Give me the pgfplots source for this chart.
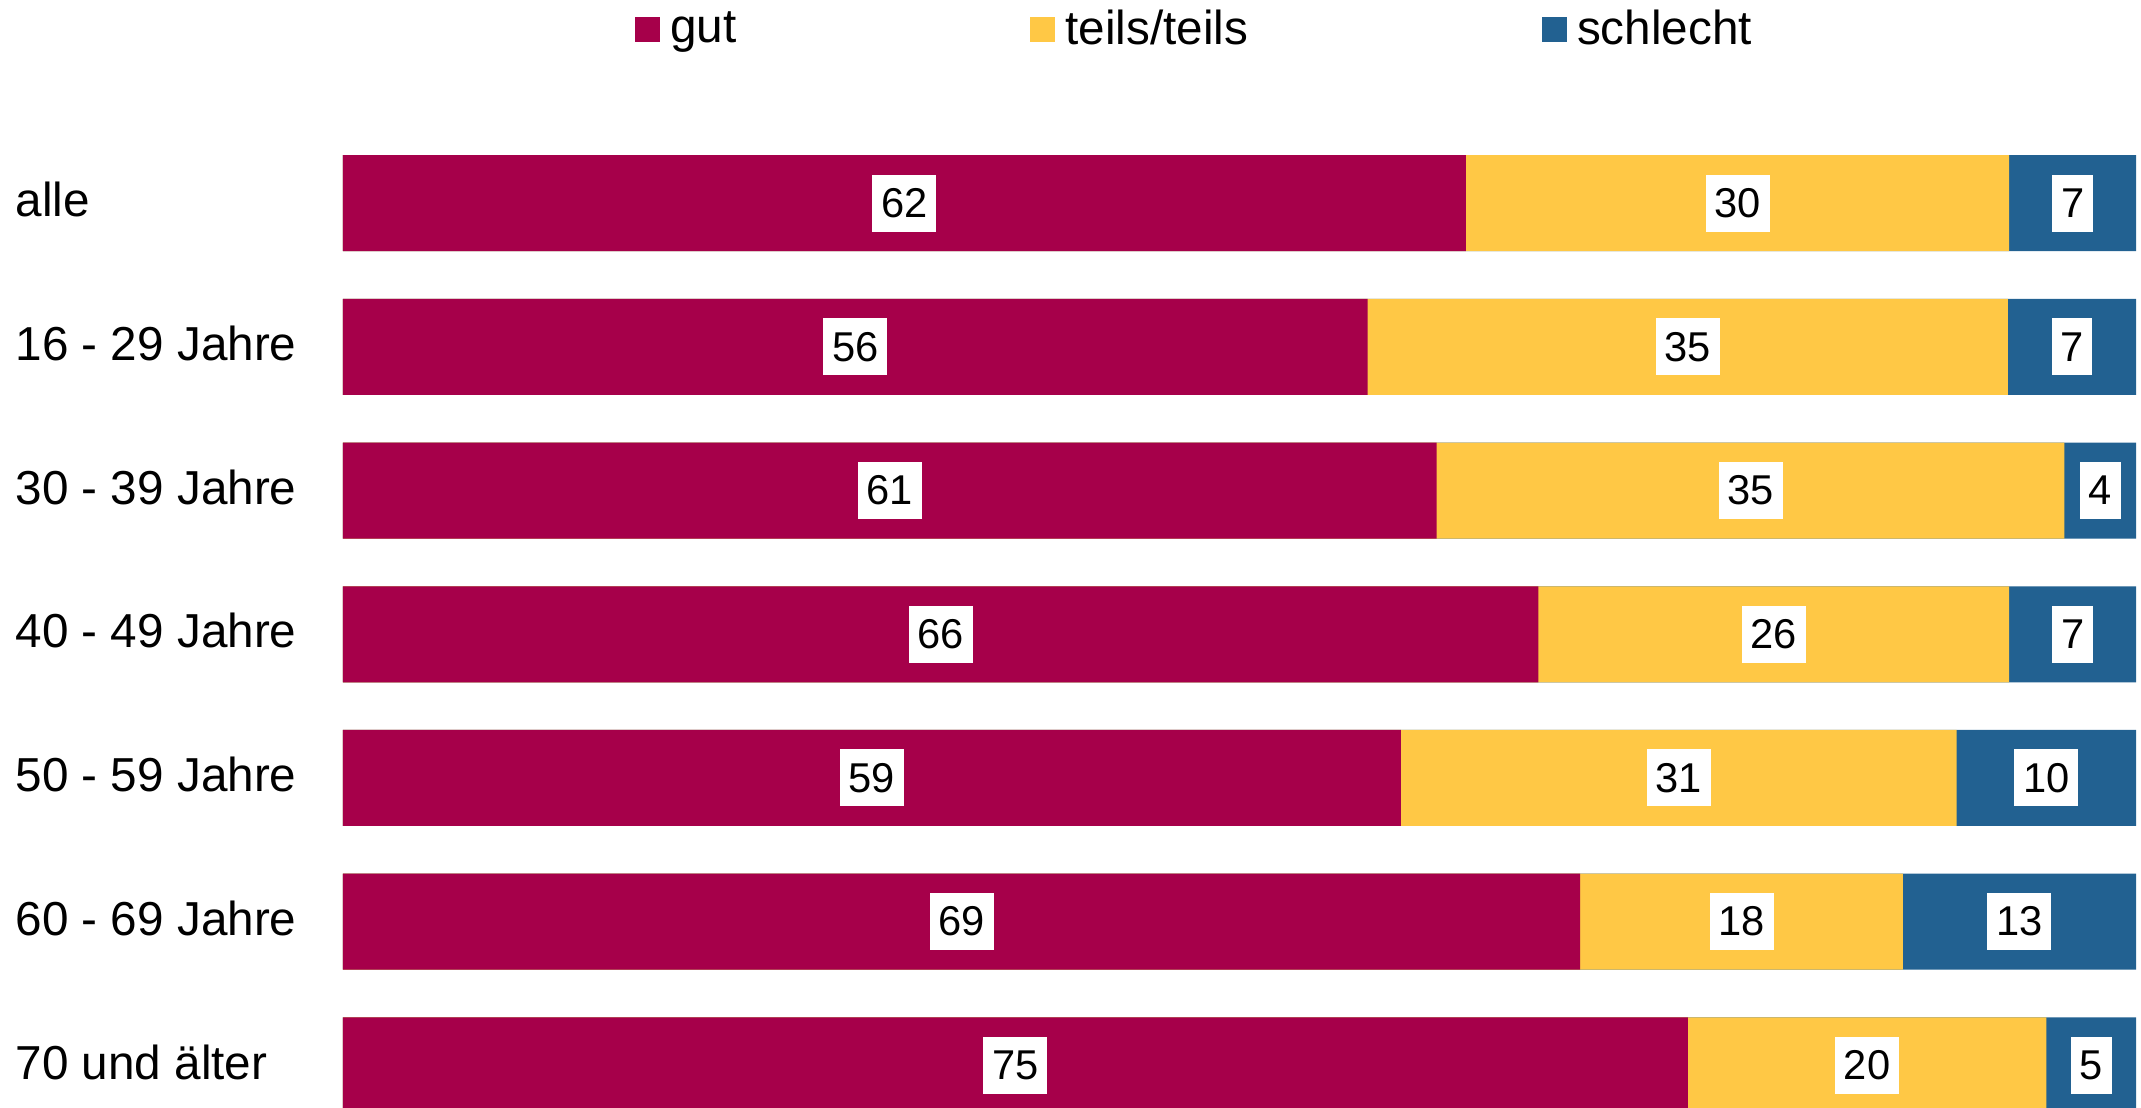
\documentclass[border=0pt]{standalone}
\usepackage{fontspec}
\setmainfont{Liberation Sans}
\usepackage{pgfplots}
\usepackage{pgfplotstable}
\pgfplotsset{compat=1.18}
\definecolor{gutc}{RGB}{166,0,74}
\definecolor{teilsc}{RGB}{255,200,69}
\definecolor{schlc}{RGB}{34,97,145}

% Anteile in Prozent (gerundet), je Altersgruppe
\pgfplotstableread{
pos gut teils schlecht
0 62 30 7
1 56 35 7
2 61 35 4
3 66 26 7
4 59 31 10
5 69 18 13
6 75 20 5
}\datatab
\newcommand\tot{(\thisrow{gut}+\thisrow{teils}+\thisrow{schlecht})}

\pgfplotsset{
  segbar/.style={xbar, bar width=28.8pt, /pgf/bar shift=0pt, draw=none, forget plot},
  labelbox/.style={sharp plot, draw=none, mark=none, forget plot,
    nodes near coords, point meta=explicit symbolic,
    every node near coord/.append style={anchor=center, fill=white, text=black,
      inner xsep=2.65pt, inner ysep=0pt, minimum height=17.1pt,
      font=\fontsize{12.5}{15}\selectfont}},
}

\begin{document}
\begin{tikzpicture}
\begin{axis}[
  at={(0,0)}, anchor=south west,
  width=537.9pt, height=292.7pt, scale only axis,
  xmin=0, xmax=100, ymin=-0.5, ymax=6.29, y dir=reverse,
  axis line style={draw=none}, tick style={draw=none},
  xtick=\empty, ytick={0,...,6},
  yticklabels={alle,16 - 29 Jahre,30 - 39 Jahre,40 - 49 Jahre,50 - 59 Jahre,60 - 69 Jahre,70 und älter},
  yticklabel style={anchor=west, xshift=-98.4pt, yshift=1pt, inner sep=0pt,
    font=\fontsize{14.3}{17}\selectfont},
  legend columns=3,
  legend style={at={(0.1625,1.1045)}, anchor=west, draw=none, fill=none,
    inner sep=0pt, font=\fontsize{14.3}{17}\selectfont,
    nodes={inner xsep=3.0pt, inner ysep=0pt},
    /tikz/every even column/.append style={column sep=85.2pt}},
  legend image code/.code={\fill[#1] (0pt,-3.75pt) rectangle (7.5pt,3.75pt);},
]
\addlegendimage{fill=gutc, draw=none}
\addlegendimage{fill=teilsc, draw=none}
\addlegendimage{fill=schlc, draw=none}
\legend{gut,teils/teils,schlecht}

% Segmente, von hinten nach vorn (kumuliert, auf 100 normiert)
\addplot[segbar, fill=schlc] table[x expr={100*\tot/\tot}, y=pos] \datatab;
\addplot[segbar, fill=teilsc] table[x expr={100*(\thisrow{gut}+\thisrow{teils})/\tot}, y=pos] \datatab;
\addplot[segbar, fill=gutc] table[x expr={100*\thisrow{gut}/\tot}, y=pos] \datatab;

% Werte in der Mitte der Segmente
\addplot[labelbox] table[x expr={50*\thisrow{gut}/\tot}, y=pos, meta=gut] \datatab;
\addplot[labelbox] table[x expr={100*(\thisrow{gut}+0.5*\thisrow{teils})/\tot}, y=pos, meta=teils] \datatab;
\addplot[labelbox] table[x expr={100*(\thisrow{gut}+\thisrow{teils}+0.5*\thisrow{schlecht})/\tot}, y=pos, meta=schlecht] \datatab;
\end{axis}
\pgfresetboundingbox
\path (-102.9pt,0pt) rectangle (539.4pt,332.1pt);
\end{tikzpicture}
\end{document}
